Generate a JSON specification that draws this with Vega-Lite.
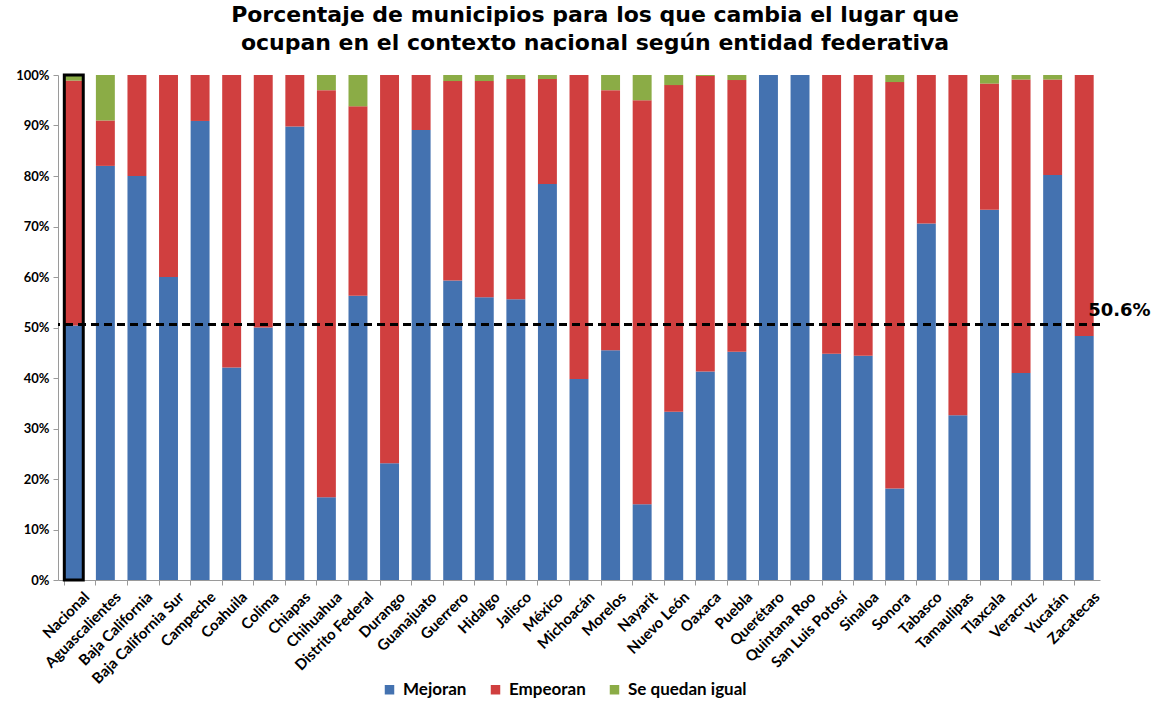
{
  "$schema": "https://vega.github.io/schema/vega-lite/v6.json",
  "width": 1042,
  "height": 505,
  "autosize": {"type": "none"},
  "padding": {"left": 58, "top": 75, "right": 59, "bottom": 125},
  "background": "white",
  "title": {
    "text": ["Porcentaje de municipios para los que cambia el lugar que", "ocupan en el contexto nacional según entidad federativa"],
    "font": "DejaVu Sans",
    "fontSize": 22,
    "fontWeight": "bold",
    "color": "#000000",
    "anchor": "middle",
    "offset": 14,
    "lineHeight": 28,
    "dx": 16
  },
  "config": {"view": {"stroke": null}},
  "data": {
    "values": [
      {"entidad": "Nacional", "Mejoran": 50.4, "Empeoran": 48.5, "Se quedan igual": 1.1},
      {"entidad": "Aguascalientes", "Mejoran": 82.0, "Empeoran": 9.0, "Se quedan igual": 9.0},
      {"entidad": "Baja California", "Mejoran": 80.0, "Empeoran": 20.0, "Se quedan igual": 0},
      {"entidad": "Baja California Sur", "Mejoran": 60.0, "Empeoran": 40.0, "Se quedan igual": 0},
      {"entidad": "Campeche", "Mejoran": 90.9, "Empeoran": 9.1, "Se quedan igual": 0},
      {"entidad": "Coahuila", "Mejoran": 42.1, "Empeoran": 57.9, "Se quedan igual": 0},
      {"entidad": "Colima", "Mejoran": 50.0, "Empeoran": 50.0, "Se quedan igual": 0},
      {"entidad": "Chiapas", "Mejoran": 89.8, "Empeoran": 10.2, "Se quedan igual": 0},
      {"entidad": "Chihuahua", "Mejoran": 16.4, "Empeoran": 80.6, "Se quedan igual": 3.0},
      {"entidad": "Distrito Federal", "Mejoran": 56.3, "Empeoran": 37.5, "Se quedan igual": 6.2},
      {"entidad": "Durango", "Mejoran": 23.1, "Empeoran": 76.9, "Se quedan igual": 0},
      {"entidad": "Guanajuato", "Mejoran": 89.1, "Empeoran": 10.9, "Se quedan igual": 0},
      {"entidad": "Guerrero", "Mejoran": 59.3, "Empeoran": 39.5, "Se quedan igual": 1.2},
      {"entidad": "Hidalgo", "Mejoran": 56.0, "Empeoran": 42.8, "Se quedan igual": 1.2},
      {"entidad": "Jalisco", "Mejoran": 55.6, "Empeoran": 43.6, "Se quedan igual": 0.8},
      {"entidad": "México", "Mejoran": 78.4, "Empeoran": 20.8, "Se quedan igual": 0.8},
      {"entidad": "Michoacán", "Mejoran": 39.8, "Empeoran": 60.2, "Se quedan igual": 0},
      {"entidad": "Morelos", "Mejoran": 45.5, "Empeoran": 51.5, "Se quedan igual": 3.0},
      {"entidad": "Nayarit", "Mejoran": 15.0, "Empeoran": 80.0, "Se quedan igual": 5.0},
      {"entidad": "Nuevo León", "Mejoran": 33.3, "Empeoran": 64.7, "Se quedan igual": 2.0},
      {"entidad": "Oaxaca", "Mejoran": 41.3, "Empeoran": 58.5, "Se quedan igual": 0.2},
      {"entidad": "Puebla", "Mejoran": 45.2, "Empeoran": 53.8, "Se quedan igual": 1.0},
      {"entidad": "Querétaro", "Mejoran": 100.0, "Empeoran": 0, "Se quedan igual": 0},
      {"entidad": "Quintana Roo", "Mejoran": 100.0, "Empeoran": 0, "Se quedan igual": 0},
      {"entidad": "San Luis Potosí", "Mejoran": 44.8, "Empeoran": 55.2, "Se quedan igual": 0},
      {"entidad": "Sinaloa", "Mejoran": 44.4, "Empeoran": 55.6, "Se quedan igual": 0},
      {"entidad": "Sonora", "Mejoran": 18.1, "Empeoran": 80.5, "Se quedan igual": 1.4},
      {"entidad": "Tabasco", "Mejoran": 70.6, "Empeoran": 29.4, "Se quedan igual": 0},
      {"entidad": "Tamaulipas", "Mejoran": 32.6, "Empeoran": 67.4, "Se quedan igual": 0},
      {"entidad": "Tlaxcala", "Mejoran": 73.3, "Empeoran": 25.0, "Se quedan igual": 1.7},
      {"entidad": "Veracruz", "Mejoran": 41.0, "Empeoran": 58.1, "Se quedan igual": 0.9},
      {"entidad": "Yucatán", "Mejoran": 80.2, "Empeoran": 18.9, "Se quedan igual": 0.9},
      {"entidad": "Zacatecas", "Mejoran": 48.3, "Empeoran": 51.7, "Se quedan igual": 0}
    ]
  },
  "encoding": {
    "x": {
      "field": "entidad",
      "type": "nominal",
      "sort": null,
      "title": null,
      "scale": {"paddingInner": 0.4, "paddingOuter": 0.2},
      "axis": {
        "labelAngle": -45,
        "labelAlign": "right",
        "labelBaseline": "middle",
        "labelFont": "Lato",
        "labelFontWeight": "bold",
        "labelFontSize": 15,
        "labelColor": "#000000",
        "labelPadding": 9,
        "bandPosition": 0,
        "labelOffset": 13,
        "domainColor": "#9a9a9a",
        "tickColor": "#9a9a9a",
        "tickSize": 5,
        "grid": false
      }
    }
  },
  "layer": [
    {
      "transform": [
        {"fold": ["Mejoran", "Empeoran", "Se quedan igual"], "as": ["grupo", "pct"]},
        {"calculate": "indexof(['Mejoran', 'Empeoran', 'Se quedan igual'], datum.grupo)", "as": "orden"}
      ],
      "mark": {"type": "bar"},
      "encoding": {
        "y": {
          "field": "pct",
          "type": "quantitative",
          "stack": "zero",
          "title": null,
          "scale": {"domain": [0, 100], "nice": false},
          "axis": {
            "values": [0, 10, 20, 30, 40, 50, 60, 70, 80, 90, 100],
            "labelExpr": "datum.value + '%'",
            "labelFont": "Lato",
            "labelFontWeight": "bold",
            "labelFontSize": 13,
            "labelColor": "#000000",
            "domainColor": "#9a9a9a",
            "tickColor": "#9a9a9a",
            "tickSize": 5,
            "labelPadding": 4,
            "grid": false
          }
        },
        "color": {
          "field": "grupo",
          "type": "nominal",
          "sort": ["Mejoran", "Empeoran", "Se quedan igual"],
          "scale": {"domain": ["Mejoran", "Empeoran", "Se quedan igual"], "range": ["#4472B0", "#D03F3F", "#8BAC46"]},
          "legend": {
            "title": null,
            "orient": "none",
            "direction": "horizontal",
            "legendX": 323,
            "legendY": 606,
            "symbolType": "square",
            "symbolSize": 90,
            "symbolStrokeWidth": 0,
            "labelFont": "Lato",
            "labelFontWeight": "bold",
            "labelFontSize": 17,
            "labelColor": "#000000",
            "columnPadding": 20,
            "labelOffset": 5
          }
        },
        "order": {"field": "orden", "type": "quantitative", "sort": "ascending"}
      }
    },
    {
      "transform": [{"filter": "datum.entidad === 'Nacional'"}],
      "mark": {"type": "bar", "fill": null, "fillOpacity": 0, "stroke": "#000000", "strokeWidth": 3},
      "encoding": {
        "y": {"datum": 0},
        "y2": {"datum": 100}
      }
    },
    {
      "mark": {"type": "rule", "strokeDash": [8, 5], "strokeWidth": 2.5, "color": "#000000"},
      "encoding": {"y": {"datum": 50.6}, "x": null}
    },
    {
      "transform": [{"filter": "datum.entidad === 'Zacatecas'"}],
      "mark": {"type": "text", "text": "50.6%", "align": "left", "baseline": "bottom", "dx": 4, "dy": -4, "font": "DejaVu Sans", "fontWeight": "bold", "fontSize": 18, "color": "#000000"},
      "encoding": {"y": {"datum": 50.6}}
    }
  ]
}
